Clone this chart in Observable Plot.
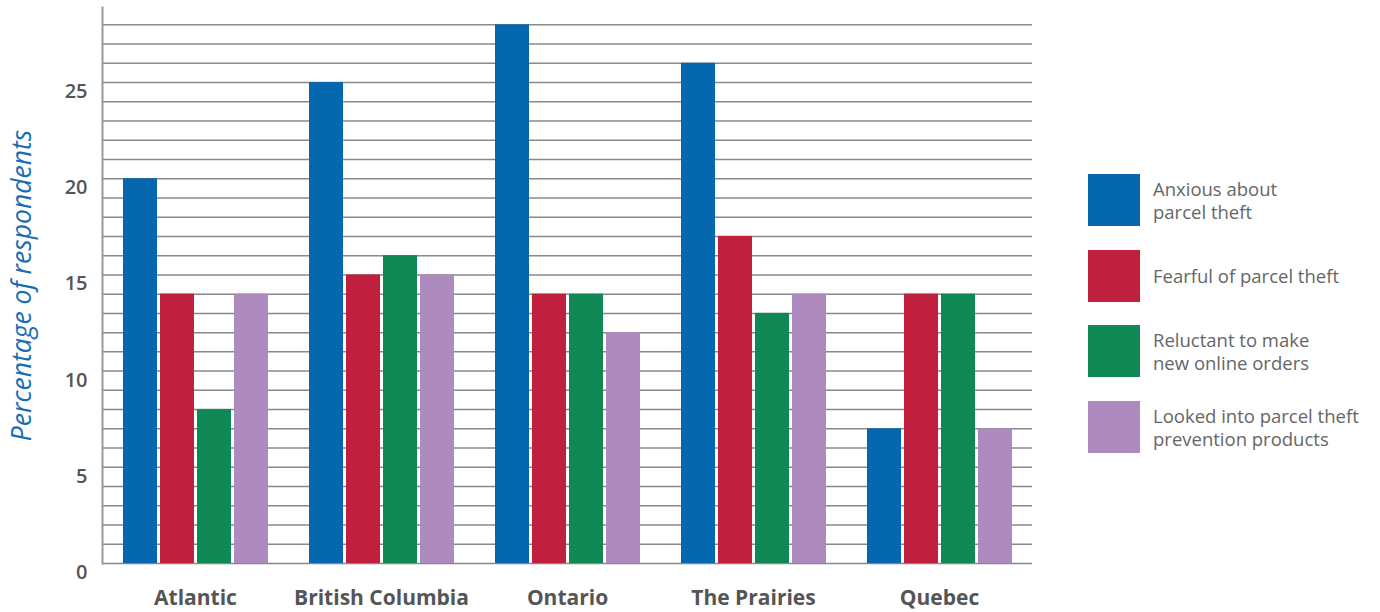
<!DOCTYPE html>
<html><head><meta charset="utf-8">
<script src="https://cdn.jsdelivr.net/npm/d3@7"></script>
<script src="https://cdn.jsdelivr.net/npm/@observablehq/plot@0.6"></script>
<style>
body{margin:0;background:#fff;font-family:"Open Sans",sans-serif;}
#wrap{position:relative;width:1380px;height:612px;overflow:hidden;}
#legend{position:absolute;left:1088px;top:174px;}
.item{display:flex;align-items:center;height:52px;margin-bottom:23.5px;}
.sw{width:52px;height:52px;margin-right:13px;flex:none;}
.lab{font-size:18.5px;color:#666;line-height:23px;}
</style></head><body>
<div id="wrap"><div id="chart"></div><div id="legend"></div></div>
<script>
const regions = ["Atlantic", "British Columbia", "Ontario", "The Prairies", "Quebec"];
const seriesNames = ["Anxious about parcel theft", "Fearful of parcel theft", "Reluctant to make new online orders", "Looked into parcel theft prevention products"];
const legendLines = [["Anxious about", "parcel theft"], ["Fearful of parcel theft"], ["Reluctant to make", "new online orders"], ["Looked into parcel theft", "prevention products"]];
const anxious    = [20, 25, 28, 26, 7];
const fearful    = [14, 15, 14, 17, 14];
const reluctant  = [8, 16, 14, 13, 14];
const lookedInto = [14, 15, 12, 14, 7];
const colors = ["#0568ae", "#c11f3e", "#0f8856", "#ae8bbe"];
const yTicks = [0, 5, 10, 15, 20, 25];
const gridValues = [0,1,2,3,4,5,6,7,8,9,10,11,12,13,14,15,16,17,18,19,20,21,22,23,24,25,26,27,28];
const yTitle = "Percentage of respondents";

const seriesValues = [anxious, fearful, reluctant, lookedInto];
const data = [];
regions.forEach((r, i) => seriesValues.forEach((arr, j) => data.push({region: r, series: seriesNames[j], value: arr[i]})));

const chart = Plot.plot({
  width: 1040,
  height: 612,
  marginLeft: 102,
  marginRight: 8,
  marginTop: 7,
  marginBottom: 49,
  style: {fontFamily: "'Open Sans', sans-serif", background: "transparent"},
  fx: {domain: regions, padding: 0, label: null},
  x: {domain: seriesNames, paddingInner: 0.088, paddingOuter: 0.537, axis: null},
  y: {domain: [0, 28.9], axis: null},
  color: {domain: seriesNames, range: colors},
  marks: [
    Plot.ruleY(gridValues, {stroke: "#888", strokeWidth: 1.5}),
    Plot.barY(data, {fx: "region", x: "series", y: "value", fill: "series"}),
    Plot.frame({anchor: "left", facetAnchor: "left", stroke: "#999", strokeWidth: 2}),
    Plot.axisY({ticks: yTicks, tickSize: 0, tickPadding: 15, dy: 9, fontSize: 20, fontWeight: 600, fill: "#555", label: null}),
    Plot.axisFx({anchor: "bottom", tickSize: 0, tickPadding: 27, fontSize: 21, fontWeight: 700, fill: "#555", label: null}),
    Plot.text([yTitle], {frameAnchor: "left", facetAnchor: "left", rotate: -90, dx: -80, fontSize: 26.5, fontStyle: "italic", fill: "#1a6db3", textAnchor: "middle"})
  ]
});
document.getElementById("chart").appendChild(chart);

const legend = document.getElementById("legend");
seriesNames.forEach((s, i) => {
  const item = document.createElement("div");
  item.className = "item";
  const sw = document.createElement("div");
  sw.className = "sw";
  sw.style.background = colors[i];
  const lab = document.createElement("div");
  lab.className = "lab";
  lab.innerHTML = legendLines[i].join("<br>");
  item.appendChild(sw); item.appendChild(lab);
  legend.appendChild(item);
});
</script>
</body></html>
